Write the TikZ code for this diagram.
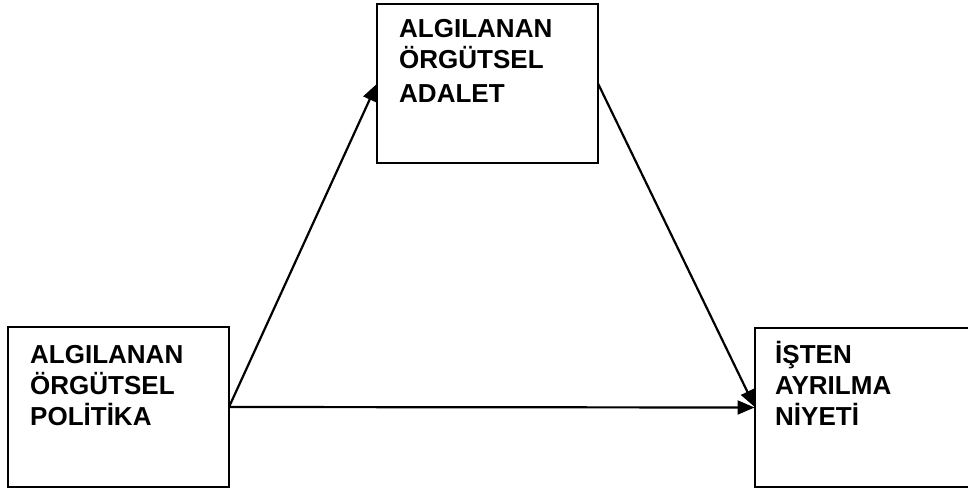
\documentclass[tikz,border=0pt]{standalone}
\usepackage{fontspec}
\setmainfont{Liberation Sans}
\usetikzlibrary{arrows.meta}
\begin{document}
\begin{tikzpicture}[x=1pt,y=-1pt,
  box/.style={draw,line width=2pt,rectangle,inner sep=0pt,outer sep=0pt},
  lbl/.style={anchor=base west,inner sep=0pt,align=left,font=\fontsize{26}{31}\selectfont\bfseries},
  arr/.style={line width=2.2pt,-{Triangle[length=17pt,width=14pt]},shorten >=0.5pt}]
\useasboundingbox (0,0) rectangle (968,488);
\clip (0,0) rectangle (968,488);
\node[box,minimum width=221pt,minimum height=160pt] (L) at (118.5,407) {};
\node[box,minimum width=221pt,minimum height=159pt] (T) at (487.5,83.5) {};
\node[box,minimum width=220pt,minimum height=159pt] (R) at (865,407.5) {};
\node[lbl] (Lt) at (30,425) {ALGILANAN\\ÖRGÜTSEL\\POLİTİKA};
\node[lbl] (Tt) at (399,102) {ALGILANAN\\ÖRGÜTSEL\\[3pt]ADALET};
\node[lbl] (Rt) at (775,425) {İŞTEN\\AYRILMA\\NİYETİ};
\draw[arr] (L.east) -- (T.west);
\draw[arr] (L.east) -- (R.west);
\draw[arr] (T.east) -- (R.west);
\end{tikzpicture}
\end{document}
